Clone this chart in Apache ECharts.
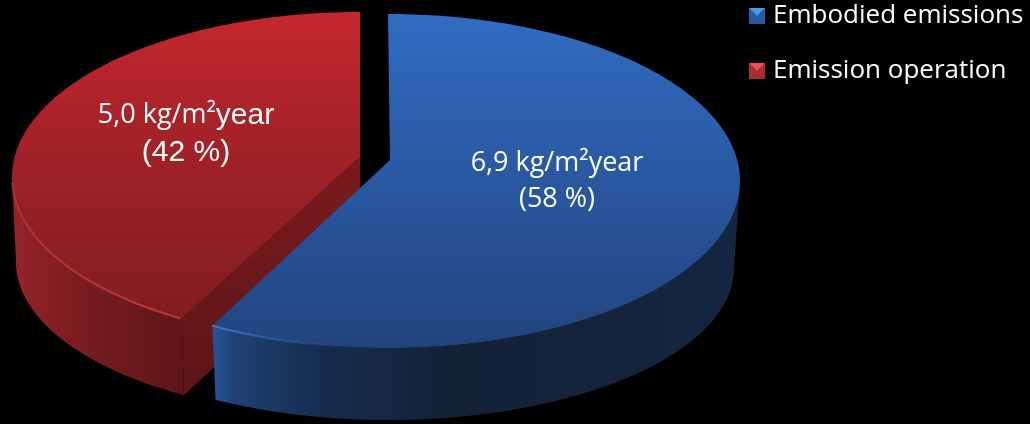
<!DOCTYPE html>
<html>
<head>
<meta charset="utf-8">
<title>Emissions</title>
<style>
  html, body {margin: 0; padding: 0; background: #000;}
  #chart {width: 1030px; height: 424px;}
</style>
<script src="https://cdn.jsdelivr.net/npm/echarts@6/dist/echarts.min.js"></script>
</head>
<body>
<div id="chart"></div>
<script>
const categories = ["Embodied emissions", "Emission operation"];
const emissions = [6.9, 5.0];
const shares = [58, 42];
const unit = "kg/m²";
const unitSuffix = "year";

const total = emissions.reduce((a, b) => a + b, 0);
// the pie is drawn leaning back, so the sweep is a little stretched
const fullSweep = 362;
const startAngle = -90;

function svgIcon(top, mid, side, bottom) {
  const svg = "<svg xmlns='http://www.w3.org/2000/svg' width='16' height='16'>" +
    `<rect width='16' height='16' fill='${mid}'/>` +
    `<polygon points='0,0 16,0 8,8' fill='${top}'/>` +
    `<polygon points='0,0 8,8 0,16' fill='${side}'/>` +
    `<polygon points='16,0 8,8 16,16' fill='${side}'/>` +
    `<polygon points='0,16 16,16 8,8' fill='${bottom}'/></svg>`;
  return "image://data:image/svg+xml;utf8," + encodeURIComponent(svg);
}

const looks = [
  {
    top: {cx: 388, cy: 181, a: 352, b: 167},
    bottom: {cx: 388, cy: 268, a: 346, b: 152},
    apex: [390, 160],
    shift: 0,
    face: ["rgb(49,108,194)", "rgb(41,88,160)", "rgb(33,68,126)"],
    wall: [[0, "rgb(38,84,152)"], [0.04, "rgb(31,66,118)"], [0.2, "rgb(22,44,78)"], [0.45, "rgb(19,33,54)"], [1, "rgb(20,38,64)"]],
    glow: [[0, "rgba(80,140,225,0.9)"], [1, "rgba(80,140,225,0)"]],
    glowSpan: [98, 120],
    labelAt: [557, 181],
    icon: svgIcon("#4f9be8", "#2c5fa8", "#2a5ca6", "#2a5795"),
  },
  {
    top: {cx: 360, cy: 177, a: 348, b: 165},
    bottom: {cx: 360, cy: 262, a: 344, b: 155},
    apex: [360, 157],
    apexBottom: [360, 233],
    shift: 0.9,
    face: ["rgb(196,39,46)", "rgb(158,33,38)", "rgb(128,28,32)"],
    wall: [[0, "rgb(150,35,40)"], [0.4, "rgb(120,28,32)"], [1, "rgb(94,22,24)"]],
    glow: [[0, "rgba(226,70,76,0.6)"], [0.6, "rgba(226,70,76,0.8)"], [1, "rgba(226,70,76,0.85)"]],
    glowSpan: [121, 178],
    labelAt: [186, 134],
    icon: svgIcon("#e8545c", "#b8303a", "#b02c34", "#a82a32"),
  },
];

const labelRich = [
  {
    a: {fontFamily: "Open Sans", fontSize: 27, fill: "#fff", lineHeight: 36},
    b: {fontFamily: "Open Sans", fontSize: 27, fill: "#fff", lineHeight: 36},
  },
  {
    a: {fontFamily: "Open Sans", fontSize: 27, fill: "#fff", lineHeight: 37},
    b: {fontFamily: "Liberation Sans", fontSize: 30, fill: "#fff", lineHeight: 37},
  },
];

function pointOn(ellipse, deg) {
  const r = deg * Math.PI / 180;
  return [ellipse.cx + ellipse.a * Math.cos(r), ellipse.cy + ellipse.b * Math.sin(r)];
}

function arc(ellipse, from, to) {
  const pts = [];
  const steps = Math.max(2, Math.ceil(Math.abs(to - from)));
  for (let i = 0; i <= steps; i++) {
    pts.push(pointOn(ellipse, from + (to - from) * i / steps));
  }
  return pts;
}

function sliceRange(index) {
  let before = 0;
  for (let i = 0; i < index; i++) {
    before += emissions[i];
  }
  const from = startAngle + before / total * fullSweep + looks[index].shift;
  const to = startAngle + (before + emissions[index]) / total * fullSweep;
  return [from, Math.min(to, 270)];
}

function gradient(x2, y2, stops) {
  return {type: "linear", x: 0, y: 0, x2: x2, y2: y2, colorStops: stops.map(s => ({offset: s[0], color: s[1]}))};
}

function renderSlice(index) {
  return function(params, api) {
    const look = looks[index];
    const value = api.value(0);
    const range = sliceRange(index);
    const children = [];

    // outer wall, only the part facing the viewer
    const wallFrom = Math.max(range[0], 0);
    const wallTo = Math.min(range[1], 180);
    children.push({
      type: "polygon",
      shape: {points: arc(look.top, wallFrom, wallTo).concat(arc(look.bottom, wallTo, wallFrom))},
      style: {fill: gradient(1, 0, look.wall)},
    });

    // cut wall
    if (look.apexBottom) {
      children.push({
        type: "polygon",
        shape: {points: [look.apex, look.apexBottom, pointOn(look.bottom, range[0]), pointOn(look.top, range[0])]},
        style: {fill: gradient(0, 1, [[0, "rgb(122,27,30)"], [1, "rgb(92,21,23)"]])},
      });
    }

    // top face
    children.push({
      type: "polygon",
      shape: {points: [look.apex].concat(arc(look.top, range[0], range[1]))},
      style: {fill: gradient(0, 1, [[0, look.face[0]], [0.5, look.face[1]], [1, look.face[2]]])},
    });

    // light edge along the rim
    children.push({
      type: "polyline",
      shape: {points: arc(look.top, look.glowSpan[0], look.glowSpan[1])},
      style: {fill: null, stroke: gradient(1, 0, look.glow), lineWidth: 2, opacity: 0.8},
    });

    const valueText = value.toFixed(1).replace(".", ",");
    children.push({
      type: "text",
      x: look.labelAt[0],
      y: look.labelAt[1],
      style: {
        text: `{a|${valueText} ${unit}}{b|${unitSuffix}}\n{${index === 0 ? "a" : "b"}|(${shares[index]} %)}`,
        rich: labelRich[index],
        align: "center",
        verticalAlign: "middle",
      },
    });

    return {type: "group", children: children};
  };
}

const chart = echarts.init(document.getElementById("chart"));
chart.setOption({
  backgroundColor: "#000",
  animation: false,
  legend: {
    orient: "vertical",
    left: 749,
    top: 1,
    padding: 0,
    itemWidth: 16,
    itemHeight: 16,
    itemGap: 25,
    selectedMode: false,
    textStyle: {color: "#fff", fontFamily: "Open Sans", fontSize: 26, padding: [0, 0, 0, 3], lineHeight: 30},
    data: categories.map((name, i) => ({name: name, icon: looks[i].icon})),
  },
  series: categories.map((name, i) => ({
    type: "custom",
    name: name,
    coordinateSystem: "none",
    z: i === 0 ? 3 : 2,
    silent: true,
    renderItem: renderSlice(i),
    data: [[emissions[i]]],
  })),
});
</script>
</body>
</html>
